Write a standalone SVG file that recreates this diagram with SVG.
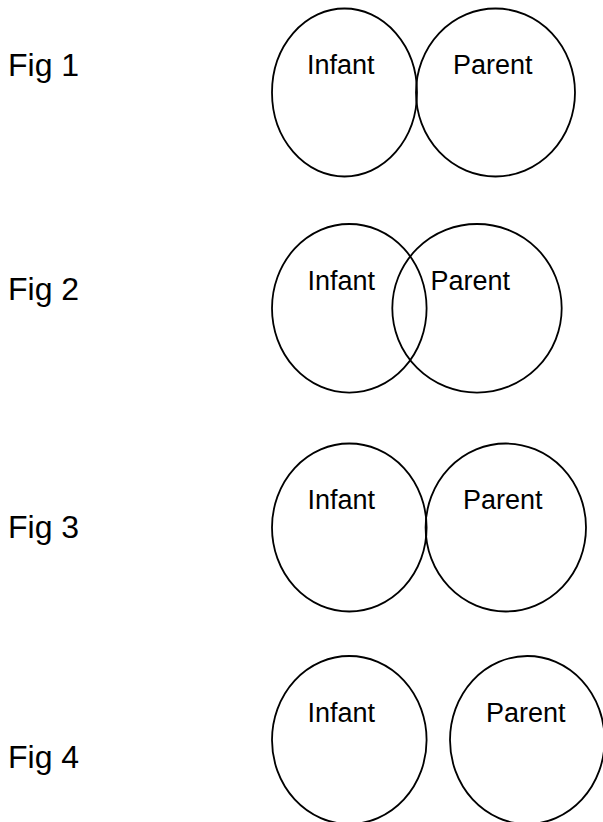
<svg xmlns="http://www.w3.org/2000/svg" width="603" height="822" viewBox="0 0 603 822">
<style>
.c{fill:none;stroke:#000;stroke-width:1.8}
.l{font-family:"Liberation Sans",Arial,sans-serif;font-size:27px;fill:#000}
.f{font-family:"Liberation Sans",Arial,sans-serif;font-size:32px;fill:#000}
</style>
<rect width="603" height="822" fill="#fff"/>
<g id="fig1">
<text class="f" x="8" y="76">Fig 1</text>
<g id="fig1-infant"><ellipse class="c" cx="344.5" cy="92.5" rx="72.5" ry="84"/><text class="l" x="307" y="74">Infant</text></g>
<g id="fig1-parent"><ellipse class="c" cx="495.5" cy="92.5" rx="79.5" ry="84"/><text class="l" x="453" y="74">Parent</text></g>
</g>
<g id="fig2">
<text class="f" x="8" y="300">Fig 2</text>
<g id="fig2-infant"><ellipse class="c" cx="349.3" cy="308.3" rx="77.3" ry="84.3"/><text class="l" x="307.5" y="290">Infant</text></g>
<g id="fig2-parent"><ellipse class="c" cx="477" cy="308.3" rx="84.7" ry="84.3"/><text class="l" x="430.5" y="290">Parent</text></g>
</g>
<g id="fig3">
<text class="f" x="8" y="538">Fig 3</text>
<g id="fig3-infant"><ellipse class="c" cx="349.3" cy="527.5" rx="77.3" ry="84"/><text class="l" x="307.5" y="509">Infant</text></g>
<g id="fig3-parent"><ellipse class="c" cx="505.8" cy="527.5" rx="80.2" ry="84"/><text class="l" x="463" y="509">Parent</text></g>
</g>
<g id="fig4">
<text class="f" x="8" y="767.5">Fig 4</text>
<g id="fig4-infant"><ellipse class="c" cx="349.3" cy="740" rx="77.3" ry="84"/><text class="l" x="307.5" y="721.7">Infant</text></g>
<g id="fig4-parent"><ellipse class="c" cx="527.3" cy="740" rx="77.3" ry="84"/><text class="l" x="486" y="721.7">Parent</text></g>
</g>
<g id="connectors"/>
</svg>
